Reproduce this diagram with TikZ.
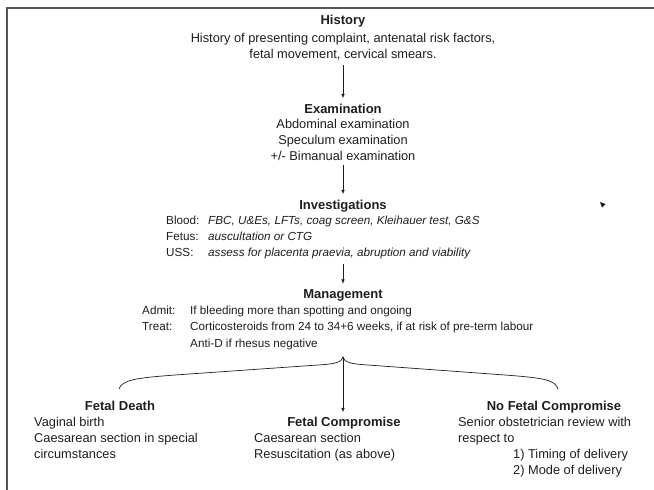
\documentclass[tikz,border=0pt]{standalone}
\usepackage{fontspec}
\setmainfont{Liberation Sans}
\usetikzlibrary{arrows.meta,positioning}
\definecolor{framegray}{HTML}{555555}
\definecolor{ink}{HTML}{1E1E1E}

% fixed-width label in front of a list line
\newcommand{\rowlabel}[2]{\makebox[#1][l]{#2}}

\begin{document}
\begin{tikzpicture}[
    x=1pt, y=-1pt,
    font=\fontsize{12.8}{16}\selectfont,
    txt/.style={inner sep=0pt, anchor=base, align=center, text=ink},
    head/.style={txt, font=\fontsize{13}{16}\selectfont\bfseries},
    list/.style={inner sep=0pt, anchor=base west, align=left, text=ink},
    small/.style={list, font=\fontsize{11.7}{16}\selectfont},
    arrow/.style={-{Latex[length=4.5pt,width=3.5pt]}, draw=ink, line width=0.7pt, shorten <=5pt, shorten >=5pt},
    brace/.style={draw=ink, line width=0.7pt}
]
\useasboundingbox (0,0) rectangle (654,490);
\draw[framegray, line width=1.5pt] (7,500) |- (660,8);

% main column (multi-line nodes sit on the baseline of their last line)
\node[head] (hist) at (343,24) {History};
\node[txt] (histtxt) at (343,58) {History of presenting complaint, antenatal risk factors,\\fetal movement, cervical smears.};

\node[head] (exam) at (343,113) {Examination};
\node[txt] (examtxt) at (343,160) {Abdominal examination\\Speculum examination\\+/- Bimanual examination};

\node[head] (inv) at (343,209) {Investigations};
\node[small] (invtxt) at (166,256) {\rowlabel{42pt}{Blood:}\textit{FBC, U\&Es, LFTs, coag screen, Kleihauer test, G\&S}\\
  \rowlabel{42pt}{Fetus:}\textit{auscultation or CTG}\\
  \rowlabel{42pt}{USS:}\textit{assess for placenta praevia, abruption and viability}};

\node[head] (mgmt) at (343,298) {Management};
\node[small, font=\fontsize{11.7}{16.5}\selectfont] (mgmttxt) at (142,347) {\rowlabel{48pt}{Admit:}If bleeding more than spotting and ongoing\\
  \rowlabel{48pt}{Treat:}Corticosteroids from 24 to 34+6 weeks, if at risk of pre-term labour\\
  \rowlabel{48pt}{}Anti-D if rhesus negative};

\draw[arrow] (histtxt.south) -- (exam.north);
\draw[arrow] (examtxt.south) -- (inv.north);
\draw[arrow] (invtxt.south -| inv) -- (mgmt.north);

% outcomes
\node[head] (death) at (120,410) {Fetal Death};
\node[list] (deathtxt) at (34,458) {Vaginal birth\\Caesarean section in special\\circumstances};

\node[head] (comp) at (344,426) {Fetal Compromise};
\node[list] (comptxt) at (254,458) {Caesarean section\\Resuscitation (as above)};

\node[head] (nocomp) at (554,410) {No Fetal Compromise};
\node[list] (nocomptxt) at (458,474) {Senior obstetrician review with\\respect to\\
  \hspace{55pt}1) Timing of delivery\\\hspace{55pt}2) Mode of delivery};

% brace splitting into the three outcomes
\coordinate (peak) at (343,357);
\coordinate (lend) at (119,389);
\coordinate (rend) at (558,389);
\draw[brace] (lend) .. controls (122,380) and (135,378) .. (175,375) -- (318,365)
  .. controls (336,364) and (342,362) .. (peak)
  .. controls (344,362) and (350,364) .. (368,365) -- (505,375)
  .. controls (545,378) and (555,380) .. (rend);
\draw[arrow, shorten <=0pt, shorten >=4pt] (peak) -- (peak |- comp.north);

\fill[ink] (600,202) -- (605.5,204) -- (602,207.5) -- cycle;
\end{tikzpicture}
\end{document}
